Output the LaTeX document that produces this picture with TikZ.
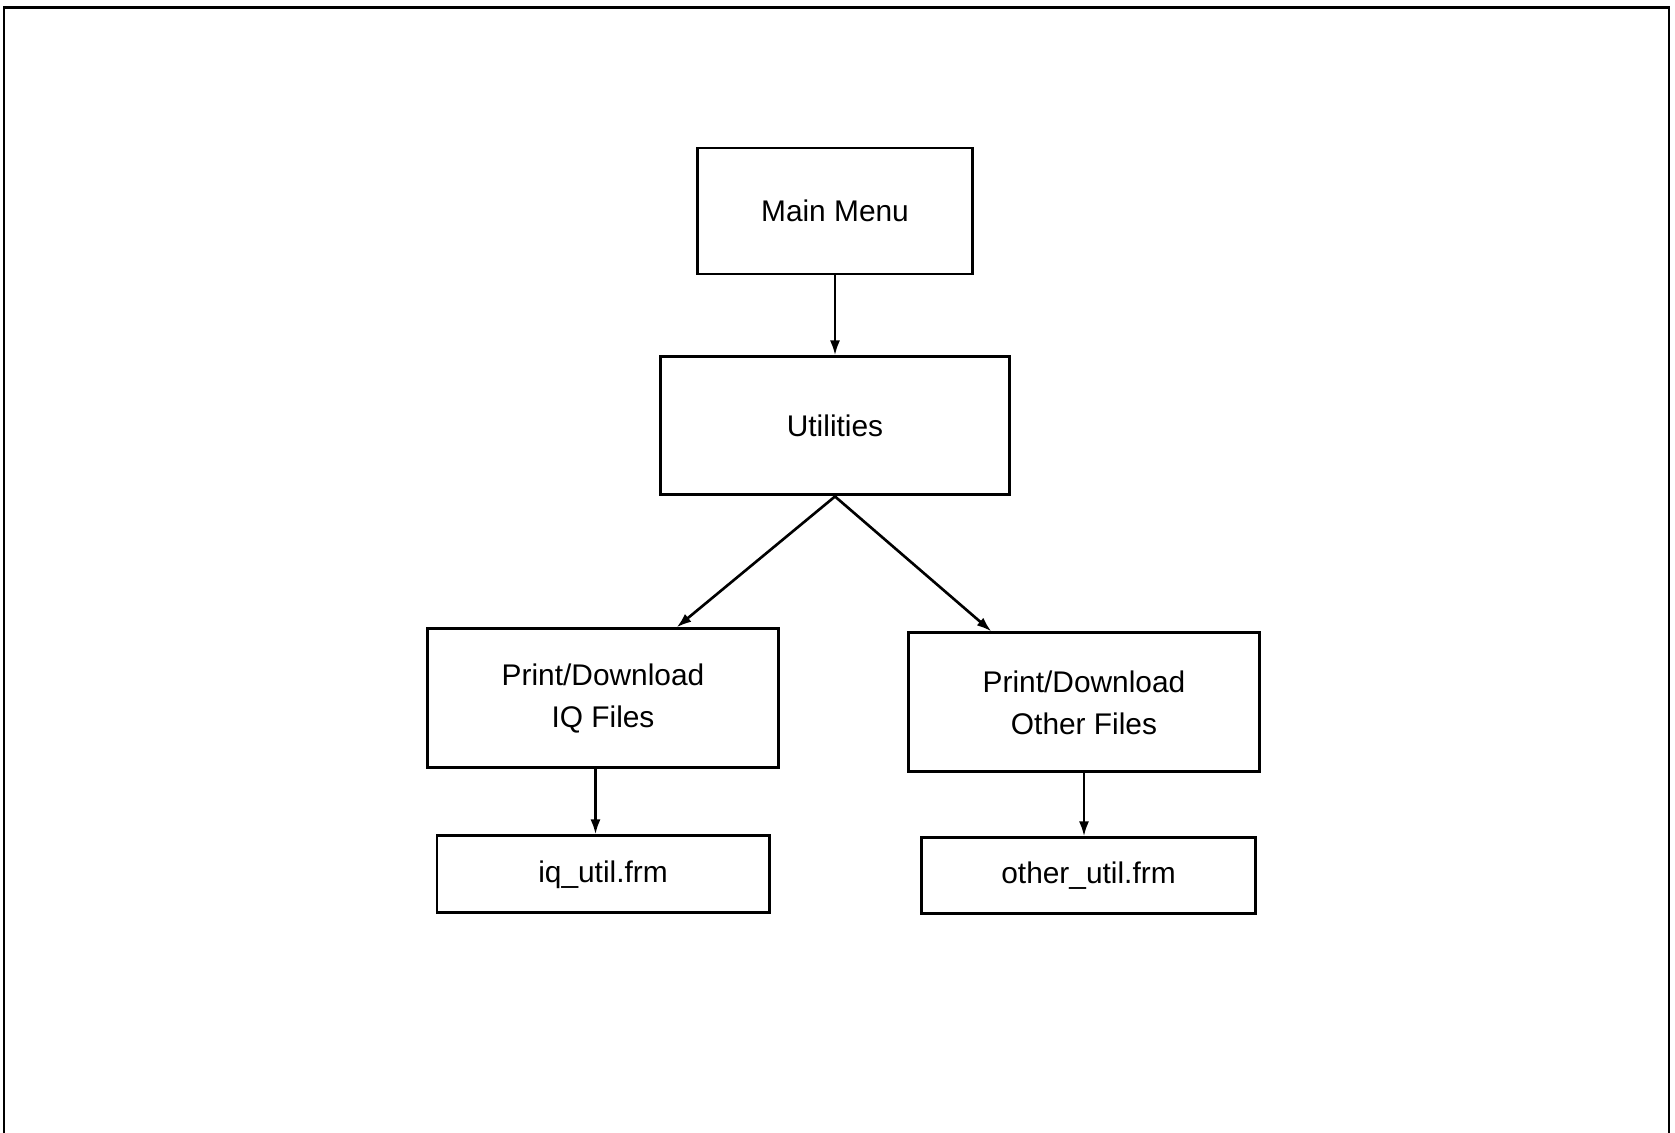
\documentclass[tikz,border=0pt]{standalone}
\usepackage{fontspec}
\setmainfont{Liberation Sans}
\usetikzlibrary{arrows.meta,positioning}

\begin{document}
\begin{tikzpicture}[
  menubox/.style={draw=black,line width=1.7pt,align=center,inner sep=0pt,font=\fontsize{17}{24}\selectfont},
  arr/.style={-{Latex[length=3mm,width=2mm]},line width=1.5pt,draw=black}
]
% page size and open frame
\useasboundingbox (0,0) rectangle (33.5,-22.66);
\draw[line width=1.4pt] (0.08,-22.66) |- (33.38,-0.15) -- (33.38,-22.66);

\node[menubox,minimum width=5.5cm,minimum height=2.52cm] (main) at (16.7,-4.22) {Main Menu};
\node[menubox,minimum width=6.98cm,minimum height=2.76cm,below=1.60cm of main] (util) {Utilities};
\node[menubox,minimum width=7.02cm,minimum height=2.78cm,below=2.62cm of util,xshift=-4.64cm] (iqfiles) {Print/Download\\IQ Files};
\node[menubox,minimum width=7.02cm,minimum height=2.78cm,below=2.70cm of util,xshift=4.98cm] (otherfiles) {Print/Download\\Other Files};
\node[menubox,minimum width=6.64cm,minimum height=1.54cm,below=1.30cm of iqfiles] (iqutil) {iq\_util.frm};
\node[menubox,minimum width=6.68cm,minimum height=1.52cm,below=1.26cm of otherfiles,xshift=0.09cm] (otherutil) {other\_util.frm};

\draw[arr] (main) -- (util);
\draw[arr] (util.south) -- ([xshift=1.47cm]iqfiles.north);
\draw[arr] (util.south) -- ([xshift=-1.85cm]otherfiles.north);
\draw[arr] ([xshift=-1.5mm]iqfiles.south) -- ([xshift=-1.5mm]iqutil.north);
\draw[arr] (otherfiles.south) -- (otherfiles.south |- otherutil.north);
\end{tikzpicture}
\end{document}
